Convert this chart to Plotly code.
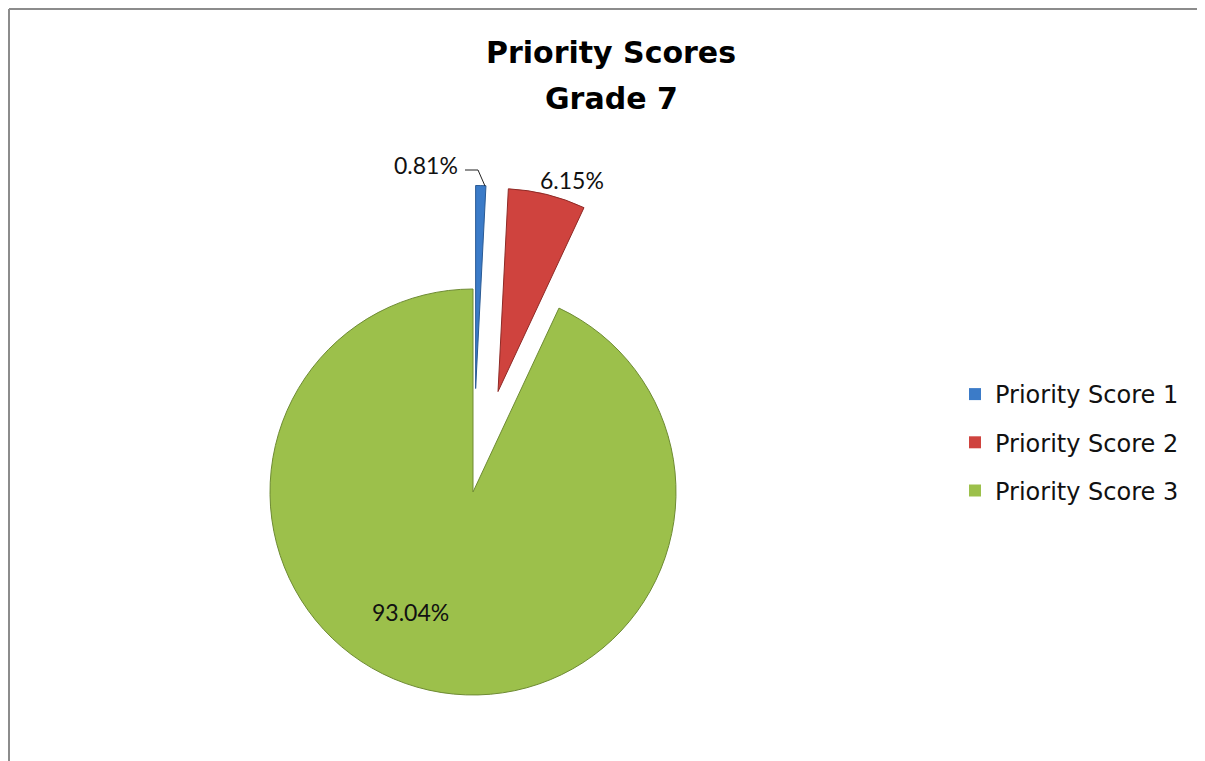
import math
import plotly.graph_objects as go

# data
labels = ["Priority Score 1", "Priority Score 2", "Priority Score 3"]
values = [0.81, 6.15, 93.04]
colors = ["#3B7BC8", "#CF433E", "#9CC04B"]
edge_colors = ["#2A5A94", "#8E2A26", "#6E8B33"]
exploded = [True, True, False]

title_text = "Priority Scores"
subtitle_text = "Grade 7"

# the page body adds an 8px margin, so the figure is a bit smaller and
# positions below are given in window pixels and converted
OX, OY = 8, 8
W, H = 1197, 753


def px(x):
    return (x - OX) / W


def py(y):
    return 1 - (y - OY) / H


CX, CY, R = 473, 492, 203   # pie centre / radius (window px)
PULL = 0.51                 # explode distance as fraction of radius
CLEAR = "rgba(0,0,0,0)"

total = sum(values)
fig = go.Figure()

# one pie per slice so exploded slices can sit further out than plotly's pull allows
start = 0
for i, v in enumerate(values):
    mid = math.radians((start + v / 2) / total * 360)
    start += v
    pull = PULL if exploded[i] else 0
    cx = CX + math.sin(mid) * pull * R
    cy = CY - math.cos(mid) * pull * R
    cols = [colors[j] if j == i else CLEAR for j in range(len(values))]
    lines = [edge_colors[j] if j == i else CLEAR for j in range(len(values))]
    fig.add_trace(go.Pie(
        labels=labels, values=values, sort=False,
        direction="clockwise", rotation=0,
        marker=dict(colors=cols, line=dict(color=lines, width=1)),
        textinfo="none", hoverinfo="label+percent", showlegend=False,
        domain=dict(x=[px(cx - R), px(cx + R)], y=[py(cy + R), py(cy - R)]),
    ))

# legend only traces (tiny, out of the way)
for i in range(len(values)):
    fig.add_trace(go.Pie(
        labels=[labels[i]], values=[values[i]], sort=False,
        marker=dict(colors=[colors[i]]), textinfo="none", hoverinfo="skip",
        legendgroup=f"g{i}", showlegend=True,
        domain=dict(x=[0.999, 1.0], y=[0.0, 0.001]),
    ))

# data labels
lab_font = dict(family="Lato", size=23, color="#111111")
fig.add_annotation(text=f"{values[0]:.2f}%", x=px(426), y=py(165),
                   xref="paper", yref="paper", xanchor="center", yanchor="middle",
                   showarrow=False, font=lab_font)
fig.add_annotation(text=f"{values[1]:.2f}%", x=px(572), y=py(180),
                   xref="paper", yref="paper", xanchor="center", yanchor="middle",
                   showarrow=False, font=lab_font)
fig.add_annotation(text=f"{values[2]:.2f}%", x=px(410), y=py(612),
                   xref="paper", yref="paper", xanchor="center", yanchor="middle",
                   showarrow=False, font=lab_font)

# leader line for the small slice label
fig.add_shape(type="path", xref="paper", yref="paper",
              path=f"M {px(465)},{py(170)} L {px(478)},{py(170)} L {px(485)},{py(186)}",
              line=dict(color="#222222", width=1))

# second title line, as annotation to get the wider line gap
title_font = dict(family="DejaVu Sans", size=30, color="#000000", weight="bold")
fig.add_annotation(text=subtitle_text, x=px(611), y=py(98), xref="paper", yref="paper",
                   xanchor="center", yanchor="middle", showarrow=False, font=title_font)

# frame lines (left and top edge of the chart box)
fig.add_shape(type="line", xref="paper", yref="paper", x0=1 / W, x1=1 / W,
              y0=0, y1=1 - 1 / H, line=dict(color="#8C8C8C", width=2))
fig.add_shape(type="line", xref="paper", yref="paper", x0=1 / W, x1=1,
              y0=1 - 1 / H, y1=1 - 1 / H, line=dict(color="#8C8C8C", width=2))

fig.update_layout(
    width=W, height=H,
    margin=dict(l=0, r=0, t=0, b=0),
    paper_bgcolor="white", plot_bgcolor="white",
    title=dict(text=title_text, x=px(611), xanchor="center",
               y=py(52), yanchor="middle", yref="container",
               font=title_font),
    legend=dict(x=px(955), y=py(372), xanchor="left", yanchor="top",
                traceorder="grouped", tracegroupgap=14,
                font=dict(family="DejaVu Sans", size=24, color="#111111")),
)

fig.write_html("out.html")
